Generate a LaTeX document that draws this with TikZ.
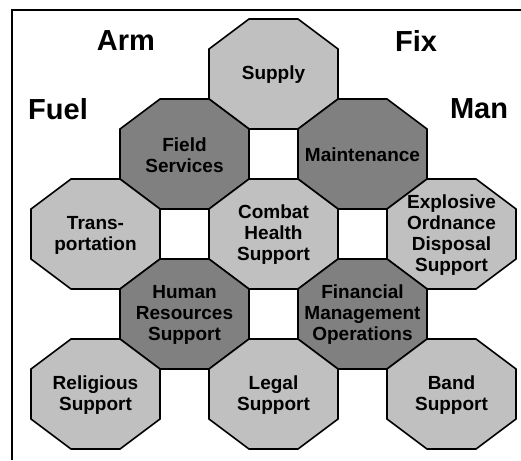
\documentclass[tikz,border=0pt]{standalone}
\usepackage{fontspec}
\setmainfont{Liberation Sans}
\usepackage{tikz}
\usetikzlibrary{positioning}
\definecolor{mylite}{RGB}{192,192,192}
\definecolor{mydark}{RGB}{128,128,128}

\begin{document}
\begin{tikzpicture}[x=1pt, y=-1pt,
    octo/.style={draw=black, line width=1.6pt, line join=miter},
    octolabel/.style={align=center, inner sep=0pt, font=\bfseries\fontsize{19}{21}\selectfont},
    corner/.style={font=\bfseries\fontsize{29}{31}\selectfont, inner sep=0pt}]
  \useasboundingbox (0,0) rectangle (521,460);
  % frame
  \draw[line width=1.8pt] (521,10) -- (12,10) -- (12,460);
  % octagons: name/column/row/colour/text
  \foreach \n/\c/\r/\col/\t in {supply/2/0/mylite/Supply,
      field/1/1/mydark/Field\\Services,
      maint/3/1/mydark/Maintenance,
      trans/0/2/mylite/Trans-\\portation,
      health/2/2/mylite/Combat\\Health\\Support,
      eod/4/2/mylite/Explosive\\Ordnance\\Disposal\\Support,
      human/1/3/mydark/Human\\Resources\\Support,
      finance/3/3/mydark/Financial\\Management\\Operations,
      relig/0/4/mylite/Religious\\Support,
      legal/2/4/mylite/Legal\\Support,
      band/4/4/mylite/Band\\Support}{
    \draw[octo, fill=\col] (95.5+89*\c, 74+80*\r) ++(-24.5,-55) -- ++(49,0)
      -- ++(40,30) -- ++(0,50) -- ++(-40,30) -- ++(-49,0)
      -- ++(-40,-30) -- ++(0,-50) -- cycle;
    \node[octolabel] (\n) at (95.5+89*\c, 75+80*\r) {\t};
  }
  % corner words
  \node[corner] (arm) at (126,41) {Arm};
  \node[corner] (fix) at (416,41) {Fix};
  \node[corner] (fuel) at (58,109) {Fuel};
  \node[corner] (man) at (479,109) {Man};
\end{tikzpicture}
\end{document}
